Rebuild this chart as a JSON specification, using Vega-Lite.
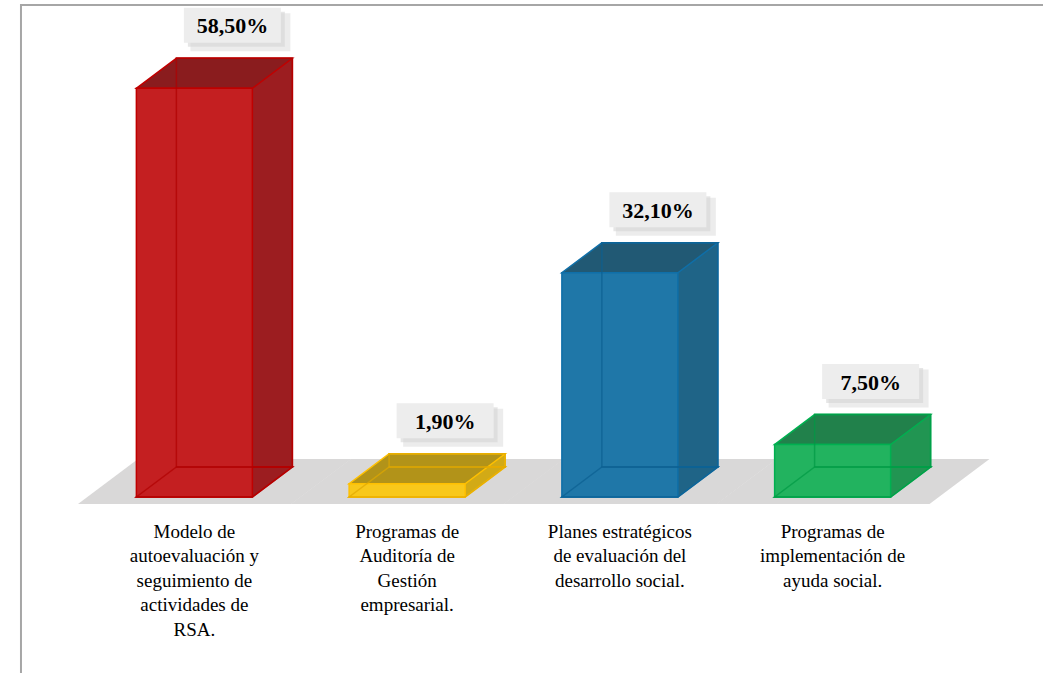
{
  "$schema": "https://vega.github.io/schema/vega-lite/v6.json",
  "autosize": "none",
  "width": 851,
  "height": 489,
  "padding": {"left": 88, "top": 8, "right": 104, "bottom": 176},
  "background": "white",
  "config": {
    "view": {"stroke": null}
  },
  "data": {
    "values": [
      {"categoria": "Modelo de\nautoevaluación y\nseguimiento de\nactividades de\nRSA.", "valor": 0.585},
      {"categoria": "Programas de\nAuditoría de\nGestión\nempresarial.", "valor": 0.019},
      {"categoria": "Planes estratégicos\nde evaluación del\ndesarrollo social.", "valor": 0.321},
      {"categoria": "Programas de\nimplementación de\nayuda social.", "valor": 0.075}
    ]
  },
  "transform": [
    {"calculate": "replace(format(datum.valor, '.2%'), '.', ',')", "as": "etiqueta"}
  ],
  "encoding": {
    "x": {"field": "categoria", "type": "nominal", "sort": null,
      "scale": {"paddingInner": 0, "paddingOuter": 0},
      "axis": {"title": null, "domain": false, "ticks": false, "labelAngle": 0, "labelFont": "Liberation Serif, DejaVu Serif, Noto Serif, serif", "labelFontSize": 19, "labelColor": "#000000", "labelPadding": 25, "labelLineHeight": 24.5, "labelLimit": 400, "labelBaseline": "top", "labelExpr": "split(datum.label, '\\n')", "grid": false}},
    "y": {"field": "valor", "type": "quantitative", "scale": {"domain": [0, 0.7], "nice": false, "zero": true}, "axis": null}
  },
  "layer": [
    {
      "mark": {"type": "point", "filled": true, "size": 4, "opacity": 1, "fill": "#D9D8D8", "strokeWidth": 0, "shape": "M-116.4,7L96.9,7L156.9,-38L-56.4,-38Z"},
      "encoding": {"y": {"datum": 0, "type": "quantitative"}}
    },
    {
      "mark": {"type": "point", "filled": false, "size": 4, "opacity": 1, "stroke": "#A6A6A6", "strokeWidth": 2, "shape": "M860,-492L-173.4,-492L-173.4,190"},
      "encoding": {
        "y": {"datum": 0, "type": "quantitative"},
        "strokeOpacity": {"condition": {"test": "indexof(datum.categoria, 'Modelo') === 0", "value": 1}, "value": 0}
      }
    },
    {
      "mark": {"type": "bar", "width": 116, "xOffset": 40, "yOffset": -30, "y2Offset": -30, "strokeWidth": 1.5},
      "encoding": {
        "fill": {"condition": [
          {"test": "indexof(datum.categoria, 'Modelo') === 0", "value": "#9C1D20"},
          {"test": "indexof(datum.categoria, 'Auditor') >= 0", "value": "#D2AA16"},
          {"test": "indexof(datum.categoria, 'Planes') === 0", "value": "#1F6487"}], "value": "#219552"},
        "stroke": {"condition": [
          {"test": "indexof(datum.categoria, 'Modelo') === 0", "value": "#C00000"},
          {"test": "indexof(datum.categoria, 'Auditor') >= 0", "value": "#FFC000"},
          {"test": "indexof(datum.categoria, 'Planes') === 0", "value": "#0F6FA8"}], "value": "#00B050"}
      }
    },
    {
      "mark": {"type": "point", "filled": true, "size": 4, "opacity": 1, "strokeWidth": 1.5, "shape": "M-58,0L58,0L98,-30L-18,-30Z"},
      "encoding": {
        "y": {"datum": 0, "type": "quantitative"},
        "fill": {"condition": [
          {"test": "indexof(datum.categoria, 'Modelo') === 0", "value": "#9C1D20"},
          {"test": "indexof(datum.categoria, 'Auditor') >= 0", "value": "#D2AA16"},
          {"test": "indexof(datum.categoria, 'Planes') === 0", "value": "#1F6487"}], "value": "#219552"},
        "stroke": {"condition": [
          {"test": "indexof(datum.categoria, 'Modelo') === 0", "value": "#C00000"},
          {"test": "indexof(datum.categoria, 'Auditor') >= 0", "value": "#FFC000"},
          {"test": "indexof(datum.categoria, 'Planes') === 0", "value": "#0F6FA8"}], "value": "#00B050"}
      }
    },
    {
      "mark": {"type": "point", "filled": true, "size": 4, "opacity": 1, "strokeWidth": 1.5, "shape": "M-58,0L58,0L98,-30L-18,-30Z"},
      "encoding": {
        "fill": {"condition": [
          {"test": "indexof(datum.categoria, 'Modelo') === 0", "value": "#8A1C1E"},
          {"test": "indexof(datum.categoria, 'Auditor') >= 0", "value": "#B29319"},
          {"test": "indexof(datum.categoria, 'Planes') === 0", "value": "#215974"}], "value": "#21814B"},
        "stroke": {"condition": [
          {"test": "indexof(datum.categoria, 'Modelo') === 0", "value": "#C00000"},
          {"test": "indexof(datum.categoria, 'Auditor') >= 0", "value": "#FFC000"},
          {"test": "indexof(datum.categoria, 'Planes') === 0", "value": "#0F6FA8"}], "value": "#00B050"}
      }
    },
    {
      "mark": {"type": "bar", "width": 116, "strokeWidth": 1.5},
      "encoding": {
        "fill": {"condition": [
          {"test": "indexof(datum.categoria, 'Modelo') === 0", "value": "#C41F21"},
          {"test": "indexof(datum.categoria, 'Auditor') >= 0", "value": "#F8C81B"},
          {"test": "indexof(datum.categoria, 'Planes') === 0", "value": "#1F77A8"}], "value": "#22B35F"},
        "stroke": {"condition": [
          {"test": "indexof(datum.categoria, 'Modelo') === 0", "value": "#C00000"},
          {"test": "indexof(datum.categoria, 'Auditor') >= 0", "value": "#FFC000"},
          {"test": "indexof(datum.categoria, 'Planes') === 0", "value": "#0F6FA8"}], "value": "#00B050"}
      }
    },
    {
      "mark": {"type": "bar", "width": 116, "xOffset": 40, "yOffset": -30, "y2Offset": -30, "fillOpacity": 0, "strokeWidth": 1.5, "strokeOpacity": 0.7},
      "encoding": {
        "stroke": {"condition": [
          {"test": "indexof(datum.categoria, 'Modelo') === 0", "value": "#B00000"},
          {"test": "indexof(datum.categoria, 'Auditor') >= 0", "value": "#E0A800"},
          {"test": "indexof(datum.categoria, 'Planes') === 0", "value": "#0B5F92"}], "value": "#009A45"}
      }
    },
    {
      "mark": {"type": "point", "filled": false, "size": 4, "opacity": 1, "strokeWidth": 1.5, "strokeOpacity": 0.7, "shape": "M-58,0L58,0L98,-30L-18,-30Z"},
      "encoding": {
        "y": {"datum": 0, "type": "quantitative"},
        "stroke": {"condition": [
          {"test": "indexof(datum.categoria, 'Modelo') === 0", "value": "#B00000"},
          {"test": "indexof(datum.categoria, 'Auditor') >= 0", "value": "#E0A800"},
          {"test": "indexof(datum.categoria, 'Planes') === 0", "value": "#0B5F92"}], "value": "#009A45"}
      }
    },
    {
      "mark": {"type": "point", "filled": true, "size": 4, "fill": "#E4E4E4", "opacity": 0.7, "strokeWidth": 0, "xOffset": 46, "yOffset": -56, "shape": "M-50,-19h100v38h-100z"}
    },
    {
      "mark": {"type": "point", "filled": true, "size": 4, "fill": "#D6D6D6", "opacity": 0.6, "strokeWidth": 0, "xOffset": 42, "yOffset": -59, "shape": "M-48.5,-17.5h97v35h-97z"}
    },
    {
      "mark": {"type": "point", "filled": true, "size": 4, "fill": "#EDEDED", "opacity": 1, "strokeWidth": 0, "xOffset": 38, "yOffset": -63, "shape": "M-48.5,-17.5h97v35h-97z"}
    },
    {
      "mark": {"type": "text", "font": "Liberation Serif, DejaVu Serif, Noto Serif, serif", "fontWeight": "bold", "fontSize": 22, "color": "#000000", "align": "center", "baseline": "middle", "xOffset": 38, "yOffset": -62},
      "encoding": {"text": {"field": "etiqueta", "type": "nominal"}}
    }
  ]
}
